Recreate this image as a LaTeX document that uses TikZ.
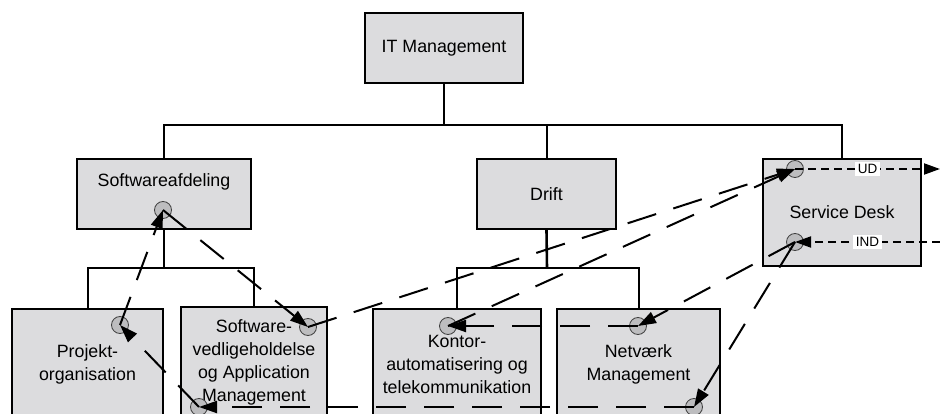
\documentclass[tikz,border=0pt]{standalone}
\usepackage{fontspec}
\setmainfont{Liberation Sans}
\usetikzlibrary{arrows.meta}
\definecolor{boxgray}{HTML}{DCDCDE}
\definecolor{dotgray}{HTML}{BDBDBF}
\begin{document}
\begin{tikzpicture}[x=1pt,y=-1pt,
  unit/.style={draw=black, line width=2.3pt, fill=boxgray, inner sep=0pt,
    align=center, font=\fontsize{17.8}{23}\selectfont},
  caption/.style={inner sep=0pt, align=center, font=\fontsize{17.8}{23}\selectfont},
  tree/.style={line width=2pt},
  dot/.style={circle, draw=black!75, line width=0.8pt, fill=dotgray,
    minimum size=17pt, inner sep=0pt},
  flow/.style={line width=2pt, dash pattern=on 30pt off 18pt,
    -{Triangle[length=18pt,width=12pt]}},
  ext/.style={line width=1.9pt, dash pattern=on 8pt off 5pt,
    -{Triangle[length=16pt,width=11pt]}},
  tag/.style={fill=white, inner xsep=3pt, inner ysep=2.5pt, font=\fontsize{13.5}{15}\selectfont}
]
\useasboundingbox (0,0) rectangle (940,414);
\begin{scope}
\clip (0,0) rectangle (940,414);

% organisation boxes
\node[unit, minimum width=158pt, minimum height=70pt] (it) at (444,48) {IT Management};
\node[unit, minimum width=174pt, minimum height=70pt] (sa) at (164,194) {};
\node[caption] (sat) at (164,182) {Softwareafdeling};
\node[unit, minimum width=139pt, minimum height=70pt] (dr) at (546.5,194) {Drift};
\node[unit, minimum width=158pt, minimum height=107pt] (sd) at (842,212.5) {Service Desk};
\node[unit, minimum width=151pt, minimum height=110pt] (pj) at (87.5,364) {Projekt-\\organisation};
\node[unit, minimum width=146pt, minimum height=110pt] (sv) at (254,362) {Software-\\vedligeholdelse\\og Application\\Management};
\node[unit, minimum width=168pt, minimum height=110pt] (ko) at (457,364) {Kontor-\\automatisering og\\telekommunikation};
\node[unit, minimum width=163pt, minimum height=110pt] (nw) at (638.5,364) {Netværk\\Management};

% tree connections
\coordinate (j0) at (444,125);
\coordinate (j1) at (164,268);
\coordinate (j2) at (547,268);
\draw[tree, line width=2.6pt] (it.south) -- (j0);
\draw[tree] (sa.north) |- (j0);
\draw[tree] (dr.north) |- (j0);
\draw[tree] (sd.north) |- (j0);
\draw[tree, line width=2.6pt] (sa.south) -- (j1);
\draw[tree] (pj.north) |- (j1);
\draw[tree] (sv.north) |- (j1);
\draw[tree, line width=2.6pt] (dr.south) -- (j2);
\draw[tree] (ko.north) |- (j2);
\draw[tree] (nw.north) |- (j2);

% contact points
\node[dot] (dsa)  at (163,210) {};
\node[dot] (dpj)  at (120,325) {};
\node[dot] (dsv)  at (308,327) {};
\node[dot] (dsvb) at (199,407) {};
\node[dot] (dko)  at (448,326) {};
\node[dot] (dnw)  at (638,326) {};
\node[dot] (dnwb) at (694,407) {};
\node[dot] (dud)  at (795,169) {};
\node[dot] (dind) at (795,242) {};

% flows between units
\draw[flow] (dpj.center)  -- (dsa.center);
\draw[flow] (dsa.center)  -- (dsv.center);
\draw[flow] (dsv.center)  -- (dud.center);
\draw[flow] (dko.center)  -- (dud.center);
\draw[flow] (dind.center) -- (dnw.center);
\draw[flow] (dind.center) -- (dnwb.center);
\draw[flow] (dnw.center)  -- (dko.center);
\draw[flow] (dnwb.center) -- (dsvb.center);
\draw[flow] (dsvb.center) -- (dpj.center);

% outgoing and incoming lines
\coordinate (udout) at (940,169);
\coordinate (indin) at (940,242);
\draw[ext] (dud.center) -- node[tag] (ud) {UD} (udout);
\draw[ext] (indin) -- node[tag] (ind) {IND} (dind.center);
\end{scope}
\end{tikzpicture}
\end{document}
